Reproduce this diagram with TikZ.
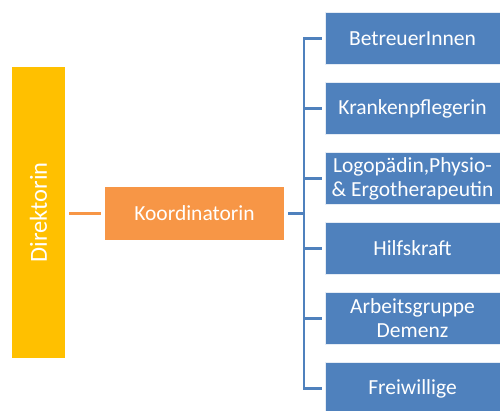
\documentclass[tikz,border=0pt]{standalone}
\usepackage{fontspec}
\setmainfont{Carlito}
\usepackage{xcolor}
\usepackage{tikz}

\definecolor{gold}{HTML}{FFC000}
\definecolor{apricot}{HTML}{F79646}
\definecolor{steel}{HTML}{4F81BD}

\begin{document}
\begin{tikzpicture}[x=1pt, y=-1pt,
	every node/.style={font=\fontsize{21.5}{24}\selectfont, text=white, inner sep=0pt, align=center},
	staff/.style={fill=steel, draw=white!85!steel, line width=0.8pt, minimum width=175pt, minimum height=52pt},
	branch/.style={draw=steel, line width=2.6pt}]
	\def\pitch{70};
	\def\top{38.5};
	
	\clip (0,0) rectangle (500,410);
	
	\node [fill=gold, rotate=90, minimum width=291pt, minimum height=53pt, font=\fontsize{24.5}{28}\selectfont] (direk) at (38.5,212.5) {Direktorin};
	\node [fill=apricot, minimum width=179pt, minimum height=53pt] (koord) at (194.5,213.5) {Koordinatorin};
	\coordinate (bus) at (304,213.5);
	
	\draw [apricot, line width=2.6pt, shorten <=4pt, shorten >=3.5pt] (koord.west) -- (koord.west -| direk.south);
	\draw [branch, shorten <=4pt] (koord.east) -- (bus);
	
	\foreach \txt [count=\i] in {BetreuerInnen, Krankenpflegerin, {Logopädin,Physio-\\\& Ergotherapeutin}, Hilfskraft, {Arbeitsgruppe\\Demenz}, Freiwillige} {
		\node [staff] (box\i) at (412.5, {\top + (\i - 1)*\pitch}) {\txt};
		\draw [branch, shorten >=3pt] (bus) |- (box\i.west);
	}
\end{tikzpicture}
\end{document}
